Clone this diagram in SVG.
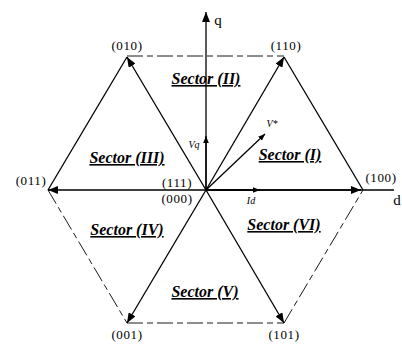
<svg xmlns="http://www.w3.org/2000/svg" width="402" height="344" viewBox="0 0 402 344">
<defs>
<marker id="ah" viewBox="0 0 10 8" refX="10" refY="4" markerWidth="10" markerHeight="8" markerUnits="userSpaceOnUse" orient="auto">
<path d="M0,0 L10,4 L0,8 Z" fill="#000"/>
</marker>
<marker id="ahs" viewBox="0 0 10 8" refX="10" refY="4" markerWidth="7" markerHeight="6" markerUnits="userSpaceOnUse" orient="auto">
<path d="M0,0 L10,4 L0,8 Z" fill="#000"/>
</marker>
</defs>
<style>
.s{stroke:#000;stroke-width:1.3;fill:none}
.d{stroke:#000;stroke-width:0.9;fill:none;stroke-dasharray:16 4 6 4}
text{font-family:'Liberation Serif','Times New Roman','DejaVu Serif',serif;fill:#000;text-anchor:middle}
.n{font-size:13px;letter-spacing:0.6px}
.sec{font-size:16px;font-weight:bold;font-style:italic;text-decoration:underline}
.sm{font-size:10px;font-style:italic}
.ax{font-size:15px}
</style>
<rect width="402" height="344" fill="#fff"/>
<g id="connectors">
<line class="s" x1="206" y1="190" x2="206" y2="12" marker-end="url(#ah)"/>
<line class="s" x1="206" y1="190" x2="206" y2="136" marker-end="url(#ahs)"/>
<line class="s" x1="206" y1="190" x2="394" y2="190"/>
<line class="s" x1="206" y1="190" x2="361" y2="190" marker-end="url(#ah)"/>
<line class="s" x1="206" y1="190" x2="260" y2="190" marker-end="url(#ahs)"/>
<line class="s" x1="206" y1="190" x2="127" y2="57" marker-end="url(#ah)"/>
<line class="s" x1="206" y1="190" x2="284" y2="57" marker-end="url(#ah)"/>
<line class="s" x1="206" y1="190" x2="48" y2="190" marker-end="url(#ah)"/>
<line class="s" x1="206" y1="190" x2="127" y2="323" marker-end="url(#ah)"/>
<line class="s" x1="206" y1="190" x2="284" y2="323" marker-end="url(#ah)"/>
<line class="s" x1="206" y1="190" x2="265" y2="134" marker-end="url(#ahs)"/>
<line class="s" x1="127" y1="57" x2="48" y2="190"/>
<line class="s" x1="284" y1="57" x2="363" y2="190"/>
<line class="d" x1="127" y1="56" x2="284" y2="56"/>
<line class="d" x1="48" y1="190" x2="127" y2="323"/>
<line class="d" x1="127" y1="323" x2="284" y2="323"/>
<line class="d" x1="284" y1="323" x2="363" y2="190"/>
</g>
<g id="n010"><text class="n" x="127" y="50">(010)</text></g>
<g id="n110"><text class="n" x="286" y="50">(110)</text></g>
<g id="n011"><text class="n" x="31" y="185">(011)</text></g>
<g id="n100"><text class="n" x="381" y="182">(100)</text></g>
<g id="n001"><text class="n" x="127" y="339">(001)</text></g>
<g id="n101"><text class="n" x="284" y="339">(101)</text></g>
<g id="n111"><text class="n" x="177" y="187">(111)</text><text class="n" x="177" y="203">(000)</text></g>
<g id="axes"><text class="ax" x="218" y="25">q</text><text class="ax" x="397" y="205">d</text></g>
<g id="vq"><text class="sm" x="194" y="148">Vq</text></g>
<g id="id"><text class="sm" x="251" y="204">Id</text></g>
<g id="vstar"><text class="sm" x="272" y="127" font-size="11">V*</text></g>
<g id="s1"><text class="sec" x="290" y="160">Sector (I)</text></g>
<g id="s2"><text class="sec" x="206" y="84">Sector (II)</text></g>
<g id="s3"><text class="sec" x="127" y="163">Sector (III)</text></g>
<g id="s4"><text class="sec" x="127" y="235">Sector (IV)</text></g>
<g id="s5"><text class="sec" x="205" y="297">Sector (V)</text></g>
<g id="s6"><text class="sec" x="284" y="230">Sector (VI)</text></g>
</svg>
